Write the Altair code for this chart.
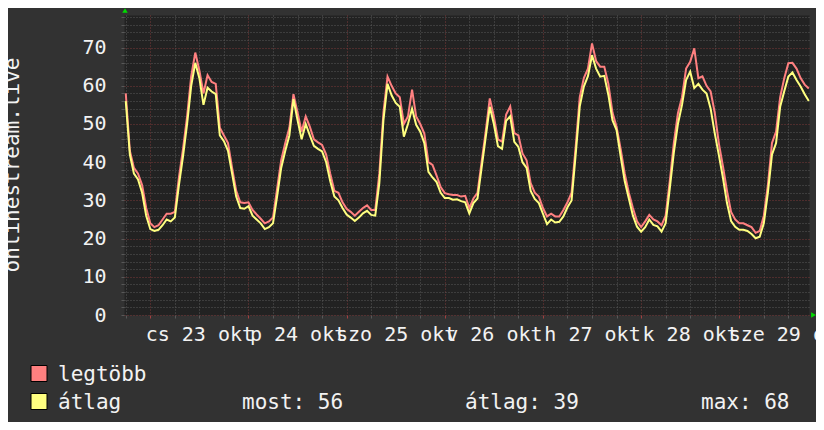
import altair as alt
import pandas as pd

# ---- data (hours from 23 okt 00:00) ----
hours = list(range(-6, 162))
avg_vals = [
    56, 42, 37, 35.5, 32, 26,
    22.5, 22, 22.3, 23.5, 25, 24.5, 25.5, 34, 41.5, 50, 60, 66,
    62, 55, 59.5, 58.5, 57.8, 47, 45.5, 43, 37, 31, 28, 27.8,
    28.5, 26, 25, 24, 22.5, 23, 24, 31, 38.5, 43, 47, 56.5,
    51, 46, 50, 47, 44.3, 43.5, 42.8, 40, 35, 31, 30, 28,
    26.3, 25.5, 24.6, 25.5, 26.6, 27.3, 26.2, 26, 34.5, 51, 60.5, 57.5,
    55.5, 54.5, 46.7, 50, 54, 49.8, 48, 45, 37.5, 36, 34.8, 32,
    30.6, 30.6, 30.2, 30.3, 29.8, 29.5, 26.6, 29.3, 30.5, 38.5, 46.5, 54.5,
    50, 44.2, 43.5, 50.8, 52, 45.3, 44, 40, 38.5, 32.5, 30.4, 29.3,
    26.5, 23.8, 25, 24.2, 24.4, 25.8, 28.2, 30, 42, 54.6, 59.8, 62.5,
    68, 64.5, 62.4, 62.6, 57.6, 51, 48.4, 41.5, 35, 30.5, 26, 23.1,
    21.8, 23, 25, 23.6, 23.2, 21.8, 24, 33, 42.5, 50, 55, 61.5,
    63.7, 59.4, 60.5, 59, 58, 54, 47.6, 41.9, 36, 29.3, 24.6, 23.1,
    22.3, 22.3, 22, 21.2, 20.1, 20.5, 24, 32, 42, 45, 54.5, 58.6,
    62.4, 63.5, 61.5, 59.8, 57.8, 56,
]
max_vals = [
    58, 43, 38.5, 37, 34, 28,
    24, 23, 23.5, 25, 26.5, 26.5, 27, 36, 43.5, 52, 62.5, 68.7,
    64, 58, 62.8, 61, 60.5, 49, 47, 45, 38.5, 32.5, 29.5, 29.3,
    29.5, 27.5, 26.3, 25.2, 24, 24.5, 25.5, 33, 40.5, 45, 49, 57.8,
    53, 48, 52, 49.3, 46, 45.2, 44.5, 42, 37, 32.5, 32, 29.5,
    27.8, 27, 26, 27, 28, 28.7, 27.5, 27.5, 37, 53, 62.4, 60,
    58, 57, 50, 52, 59, 52, 50, 47.5, 40, 39.3, 36.5, 33.5,
    31.9, 31.6, 31.4, 31.4, 31, 31.2, 28, 30.5, 32, 40, 48, 56.7,
    52, 46, 45.4, 52.5, 54.6, 47.6, 47, 42.3, 40.5, 34.5, 32, 31,
    28, 25.8, 26.5, 25.8, 25.8, 27.5, 29.5, 32, 44, 57, 62, 64.5,
    71.1, 66.5, 65, 65, 60.5, 53, 49.3, 43.5, 37, 32, 28, 24.5,
    23, 24.5, 26.2, 25, 24.5, 23.5, 26, 35, 45, 52.8, 57, 64.5,
    66.3, 69.8, 62, 62.5, 60, 58.5, 53, 45, 39, 32.5, 27, 25,
    24, 24, 23.5, 23, 21.5, 22, 26, 34, 45, 48, 57, 62,
    65.9, 66, 64.5, 62, 60.3, 59.3,
]
series_names = ["legtöbb", "átlag"]
series_colors = ["#ff8080", "#ffff80"]
day_labels = ["cs 23 okt", "p 24 okt", "szo 25 okt", "v 26 okt",
              "h 27 okt", "k 28 okt", "sze 29 okt"]
y_title = "onlinestream.live"
stat_labels = ["most: 56", "átlag: 39", "max: 68"]

df = pd.DataFrame({"hour": hours, "max": max_vals, "avg": avg_vals})
one = pd.DataFrame({"k": [0]})

FONT = "DejaVu Sans Mono"
TXT = "#f2f2f2"
MINOR = "#585858"
MAJOR = "#7a3838"

label_arr = "[" + ",".join("'" + s + "'" for s in day_labels) + "]"
x_expr = "datum.value % 24 === 12 ? " + label_arr + "[floor(datum.value / 24)] : ''"

x_scale = alt.Scale(domain=[-6.43, 161.05], nice=False, zero=False)
y_scale = alt.Scale(domain=[0, 78.53], nice=False)

x_axis = alt.Axis(
    values=list(range(-6, 162, 6)), labelExpr=x_expr, labelOverlap=False,
    labelBaseline="alphabetic", labelAlign="center", labelPadding=22,
    labelFont=FONT, labelFontSize=20, labelColor=TXT,
    tickSize=3,
    tickColor={"condition": {"test": "datum.value % 24 === 0", "value": "#a04040"}, "value": MINOR},
    grid=True, gridDash=[1, 2],
    gridColor={"condition": {"test": "datum.value % 24 === 0", "value": MAJOR}, "value": MINOR},
    domain=False, title=None, labelBound=False, labelFlush=False,
)
y_axis = alt.Axis(
    values=list(range(0, 79, 2)),
    labelExpr="datum.value % 10 === 0 ? datum.label : ''",
    labelOverlap=False, labelPadding=15, labelBaseline="middle",
    labelFont=FONT, labelFontSize=20, labelColor=TXT,
    tickSize=3, tickColor=MINOR,
    grid=True, gridDash=[1, 2],
    gridColor={"condition": {"test": "datum.value % 10 === 0", "value": MAJOR}, "value": MINOR},
    domain=False, title=None,
)

red = alt.Chart(df).mark_line(color=series_colors[0], strokeWidth=2, interpolate="linear").encode(
    x=alt.X("hour:Q", scale=x_scale, axis=x_axis),
    y=alt.Y("max:Q", scale=y_scale, axis=y_axis),
)
yellow = alt.Chart(df).mark_line(color=series_colors[1], strokeWidth=2, interpolate="linear").encode(
    x=alt.X("hour:Q", scale=x_scale, axis=x_axis),
    y=alt.Y("avg:Q", scale=y_scale, axis=y_axis),
)

arrow_up = alt.Chart(one).mark_point(shape="triangle-up", filled=True, color="#00dd00",
                                     size=30, opacity=1).encode(
    x=alt.value(1), y=alt.value(-4.5))
arrow_right = alt.Chart(one).mark_point(shape="triangle-right", filled=True, color="#00dd00",
                                        size=30, opacity=1).encode(
    x=alt.value(689.5), y=alt.value(300))

title_txt = alt.Chart(one).mark_text(text=y_title, angle=270, font=FONT, fontSize=21,
                                     color=TXT, align="center", baseline="alphabetic").encode(
    x=alt.value(-105), y=alt.value(150))

leg_layers = []
for i, (nm, col) in enumerate(zip(series_names, series_colors)):
    yb = 366 + 28 * i
    leg_layers.append(alt.Chart(one).mark_square(size=256, filled=True, color=col, stroke="#000000",
                                                 strokeWidth=1, opacity=1).encode(
        x=alt.value(-85), y=alt.value(yb - 7.5)))
    leg_layers.append(alt.Chart(one).mark_text(text=nm, font=FONT, fontSize=21, color=TXT,
                                               align="left", baseline="alphabetic").encode(
        x=alt.value(-66), y=alt.value(yb)))

stat_x = [118, 341, 577]
for sx, s in zip(stat_x, stat_labels):
    leg_layers.append(alt.Chart(one).mark_text(text=s, font=FONT, fontSize=21, color=TXT,
                                               align="left", baseline="alphabetic").encode(
        x=alt.value(sx), y=alt.value(394)))

chart = alt.layer(red, yellow, arrow_up, arrow_right, title_txt, *leg_layers).properties(
    width=685, height=300,
    padding={"left": 116, "top": 7, "right": 7, "bottom": 107},
    autosize=alt.AutoSizeParams(type="none"),
    background="#323232",
).configure_view(fill="#222222", stroke="transparent")

chart.save("out.html", embed_options={"renderer": "svg", "actions": False})
